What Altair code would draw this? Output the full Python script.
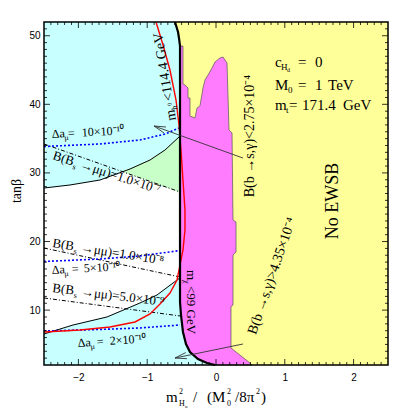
import altair as alt
import pandas as pd

# ---------------- values ----------------
# x = m_Hu^2 / (M0^2/8pi^2), y = tan(beta)
BOUND_X = [-0.596, -0.552, -0.538, -0.523, -0.523, -0.509, -0.480, -0.436, -0.378, -0.262, -0.131, -0.015]
BOUND_Y = [52.0, 50.54, 49.67, 48.50, 11.18, 9.29, 6.81, 5.06, 3.90, 2.87, 2.29, 2.0]

MAG_EDGE_X = [0.523, 0.494, 0.218, 0.218, 0.247, 0.247, 0.291, 0.291, 0.247, 0.233, 0.189, 0.160, 0.102,
              0.058, -0.015, -0.058, -0.116, -0.160, -0.189, -0.233, -0.276, -0.305, -0.378, -0.378,
              -0.407, -0.407, -0.451, -0.480, -0.480]
MAG_EDGE_Y = [2.0, 2.29, 4.48, 10.50, 10.75, 18.03, 18.47, 22.84, 23.14, 35.82, 36.26, 46.02, 46.90,
              46.75, 46.17, 45.29, 44.27, 43.55, 42.38, 39.76, 39.46, 38.0, 38.30, 40.92,
              40.92, 42.38, 42.82, 42.96, 48.50]

UPPER_X = [-2.5, -2.122, -1.686, -1.25, -0.959, -0.741, -0.523]
UPPER_Y = [27.80, 28.24, 28.97, 30.57, 31.88, 33.34, 35.38]
GREEN_X = [-1.36, -1.25, -0.959, -0.741, -0.523, -0.523]
GREEN_Y = [30.2, 30.57, 31.88, 33.34, 35.38, 27.22]

LOWER_X = [-2.5, -2.078, -1.584, -1.105, -0.858, -0.625, -0.523]
LOWER_Y = [6.52, 7.83, 9.0, 11.04, 12.20, 13.95, 14.70]

RED_X = [-0.872, -0.770, -0.669, -0.581, -0.538, -0.509, -0.480, -0.451, -0.451, -0.480, -0.523,
         -0.567, -0.669, -0.814, -0.959, -1.177, -1.541, -1.977, -2.5]
RED_Y = [52.0, 48.65, 45.0, 40.63, 36.99, 33.34, 28.97, 24.59, 21.68, 18.76, 16.58,
         14.39, 12.50, 10.89, 9.44, 8.27, 7.54, 7.10, 6.81]

AMU10_X = [-2.5, -1.686, -1.105, -0.741, -0.538]
AMU10_Y = [33.85, 34.22, 34.80, 35.67, 36.55]
AMU5_X = [-2.5, -1.686, -1.105, -0.523]
AMU5_Y = [17.09, 17.45, 17.89, 18.69]
AMU2_X = [-2.5, -1.686, -1.105, -0.523]
AMU2_Y = [6.96, 7.18, 7.40, 7.83]

BS7_X, BS7_Y = [-2.5, -0.523], [34.22, 27.22]
BS8_X, BS8_Y = [-2.5, -0.523], [19.05, 14.83]
BS9_X, BS9_Y = [-2.5, -0.523], [11.77, 9.15]

# arrow segments (x, y, x2, y2)
ARROW_X = [0.392, -0.901, -0.901, 0.392, -0.596, -0.596]
ARROW_Y = [32.17, 36.84, 36.84, 5.06, 3.02, 3.02]
ARROW_X2 = [-0.901, -0.756, -0.727, -0.596, -0.422, -0.440]
ARROW_Y2 = [36.84, 35.82, 36.69, 3.02, 2.92, 3.81]

X_MAJOR = [-2, -1, 0, 1, 2]
Y_MAJOR = [10, 20, 30, 40, 50]
X_MINOR = [round(i * 0.1, 1) for i in range(-24, 25) if i % 10]
Y_MINOR = [i for i in range(3, 52) if i % 10]

CYAN, GREEN, MAGENTA, YELLOW = "#c8ffff", "#c8ffc8", "#ff7cff", "#ffff99"
SERIF = "Liberation Serif"
W, H = 344, 343

xs = alt.Scale(domain=[-2.5, 2.5], nice=False, zero=False)
ys = alt.Scale(domain=[2, 52], nice=False, zero=False)
xaxis = alt.Axis(values=X_MAJOR, ticks=False, domain=False, grid=False, title=None,
                 labelFont="Liberation Sans", labelFontSize=10, labelPadding=7, labelColor="black")
yaxis = alt.Axis(values=Y_MAJOR, ticks=False, domain=False, grid=False, title=None,
                 labelFont="Liberation Sans", labelFontSize=10, labelPadding=4, labelColor="black")


def X(f="x"):
    return alt.X(f, type="quantitative", scale=xs, axis=xaxis)


def Y(f="y"):
    return alt.Y(f, type="quantitative", scale=ys, axis=yaxis)


def pts(xv, yv):
    return pd.DataFrame({"x": xv, "y": yv, "o": list(range(len(xv)))})


def poly(xv, yv, fill, stroke=None, sw=0.6):
    return alt.Chart(pts(xv, yv)).mark_line(
        fill=fill, stroke=stroke or fill, strokeWidth=sw, interpolate="linear-closed"
    ).encode(X(), Y(), order="o:Q")


def curve(xv, yv, color, width=1.0, dash=None):
    kw = dict(color=color, strokeWidth=width)
    if dash:
        kw["strokeDash"] = dash
    return alt.Chart(pts(xv, yv)).mark_line(**kw).encode(X(), Y(), order="o:Q")


def label(x, y, angle, pieces, align="left", baseline="alphabetic"):
    out = []
    for text, dx, dy, size in pieces:
        df = pd.DataFrame({"x": [x], "y": [y], "t": [text]})
        out.append(alt.Chart(df).mark_text(
            align=align, baseline=baseline, angle=angle, dx=dx, dy=dy,
            fontSize=size, font=SERIF, color="black"
        ).encode(X(), Y(), text="t:N"))
    return out


def ptext(px, py, text, size, angle=0, align="left", baseline="alphabetic"):
    df = pd.DataFrame({"t": [text]})
    return alt.Chart(df).mark_text(
        align=align, baseline=baseline, angle=angle, fontSize=size, font=SERIF, color="black"
    ).encode(x=alt.value(px), y=alt.value(py), text="t:N")


layers = []
# regions
yel_x = [BOUND_X[0], 2.5, 2.5] + BOUND_X[::-1]
yel_y = [BOUND_Y[0], 52.0, 2.0] + BOUND_Y[::-1]
layers.append(poly(yel_x, yel_y, YELLOW))
layers.append(poly(BOUND_X[3:] + MAG_EDGE_X, BOUND_Y[3:] + MAG_EDGE_Y, MAGENTA, "#555555", 0.7))
top_x = [-2.5] + BOUND_X[:4] + [-0.523] + UPPER_X[::-1][1:]
top_y = [52.0] + BOUND_Y[:4] + [35.38] + UPPER_Y[::-1][1:]
layers.append(poly(top_x, top_y, CYAN))
low_x = LOWER_X + BOUND_X[4:] + [-2.5]
low_y = LOWER_Y + BOUND_Y[4:] + [2.0]
layers.append(poly(low_x, low_y, CYAN))
layers.append(poly(GREEN_X, GREEN_Y, GREEN))

# curves
layers.append(curve(UPPER_X, UPPER_Y, "black", 1.0))
layers.append(curve(LOWER_X, LOWER_Y, "black", 1.0))
for bx, by in [(BS7_X, BS7_Y), (BS8_X, BS8_Y), (BS9_X, BS9_Y)]:
    layers.append(curve(bx, by, "black", 1.0, [4, 2, 1, 2]))
for ax, ay in [(AMU10_X, AMU10_Y), (AMU5_X, AMU5_Y), (AMU2_X, AMU2_Y)]:
    layers.append(curve(ax, ay, "#0000ff", 1.6, [2, 2]))
layers.append(curve(RED_X, RED_Y, "#ff0000", 1.4))
layers.append(curve(BOUND_X, BOUND_Y, "black", 2.2))

arr = pd.DataFrame({"x": ARROW_X, "y": ARROW_Y, "x2": ARROW_X2, "y2": ARROW_Y2})
layers.append(alt.Chart(arr).mark_rule(color="#333333", strokeWidth=0.9).encode(
    X(), Y(), x2="x2:Q", y2="y2:Q"))

# labels inside the plot
layers += label(-2.384, 35.09, 357, [("Δa", 0, 0, 12), ("μ", 12.5, 3, 8), ("=", 16, 0, 12), ("10×10⁻¹⁰", 30, 0, 12)])
layers += label(-2.384, 32.03, 18, [("B(B", 0, 0, 13), ("s", 22, 3, 8), ("→μμ)=1.0×10⁻⁷", 29, 0, 13)])
layers += label(-2.384, 19.20, 9, [("B(B", 0, 0, 13), ("s", 22, 3, 8), ("→μμ)=1.0×10⁻⁸", 29, 0, 13)])
layers += label(-2.384, 15.27, 357, [("Δa", 0, 0, 12), ("μ", 12.5, 3, 8), ("=", 20, 0, 12), ("5×10⁻¹⁰", 32, 0, 12)])
layers += label(-2.384, 12.64, 7, [("B(B", 0, 0, 13), ("s", 22, 3, 8), ("→μμ)=5.0×10⁻⁹", 29, 0, 13)])
layers += label(-2.006, 4.62, 356, [("Δa", 0, 0, 12), ("μ", 12.5, 3, 8), ("=", 19, 0, 12), ("2×10⁻¹⁰", 32, 0, 12)])
layers += label(-0.581, 37.71, 261, [("m", 0, 0, 14), ("h", 10.5, 3, 8), ("0", 15, -2, 6), ("<114.4 GeV", 20, 0, 14)])
layers += label(-0.422, 15.85, 90, [("m", 0, 0, 13), ("χ", 10, 3, 8), ("<99 GeV", 16, 0, 13)])
layers += label(0.494, 35.38, 270, [("B(b →s,γ)<2.75×10⁻⁴", 0, 0, 14)], "center", "middle")
layers += label(0.814, 14.97, 289, [("B(b →s,γ)>4.35×10⁻⁴", 0, 0, 14)], "center", "middle")
layers += label(1.70, 25.91, 270, [("No EWSB", 0, 0, 18)], "center", "middle")
layers += label(0.858, 45.44, 0, [("c", 0, 0, 15), ("H", 6, 3, 9), ("d", 12, 5, 6), ("=", 23, 0, 15), ("0", 40, 0, 15)])
layers += label(0.858, 42.09, 0, [("M", 0, 0, 15), ("0", 13, 3, 9), ("=", 23, 0, 15), ("1", 40, 0, 15), ("TeV", 53, 0, 15)])
layers += label(0.858, 39.17, 0, [("m", 0, 0, 15), ("t", 11, 3, 9), ("=", 14, 0, 15), ("171.4", 27, 0, 15), ("GeV", 68, 0, 15)])


# ticks pointing inward on all four sides
def tick_layers(xv, yv, length):
    dfx = pd.DataFrame({"x": xv})
    dfy = pd.DataFrame({"y": yv})
    m = dict(color="black", strokeWidth=0.8)
    return [
        alt.Chart(dfx).mark_rule(**m).encode(X(), y=alt.value(H), y2=alt.value(H - length)),
        alt.Chart(dfx).mark_rule(**m).encode(X(), y=alt.value(0), y2=alt.value(length)),
        alt.Chart(dfy).mark_rule(**m).encode(Y(), x=alt.value(0), x2=alt.value(length)),
        alt.Chart(dfy).mark_rule(**m).encode(Y(), x=alt.value(W), x2=alt.value(W - length)),
    ]


layers += tick_layers(X_MAJOR, Y_MAJOR, 6)
layers += tick_layers(X_MINOR, Y_MINOR, 3)

# frame
frame = alt.Chart(pd.DataFrame({"a": [0]})).mark_rect(fill="transparent", stroke="black", strokeWidth=1.5).encode(
    x=alt.value(0), x2=alt.value(W), y=alt.value(0), y2=alt.value(H))
layers.append(frame)

# axis titles
layers.append(ptext(-27, 169, "tanβ", 14, angle=270, align="center", baseline="middle"))
layers.append(ptext(122, 380, "m", 15))
layers.append(ptext(135, 372, "2", 8))
layers.append(ptext(135, 384, "H", 8))
layers.append(ptext(141, 386, "u", 5))
layers.append(ptext(149, 380, "/", 15))
layers.append(ptext(163, 380, "(M", 15))
layers.append(ptext(183, 372, "2", 8))
layers.append(ptext(183, 384, "0", 8))
layers.append(ptext(191, 380, "/8π", 15))
layers.append(ptext(212, 372, "2", 8))
layers.append(ptext(217, 380, ")", 15))

chart = alt.layer(*layers).properties(
    width=W, height=H,
    autosize=alt.AutoSizeParams(type="none"),
    padding={"left": 36, "top": 14, "right": 13, "bottom": 44},
).configure_view(strokeWidth=0)

chart.save("out.html", embed_options={"renderer": "svg", "actions": False})
